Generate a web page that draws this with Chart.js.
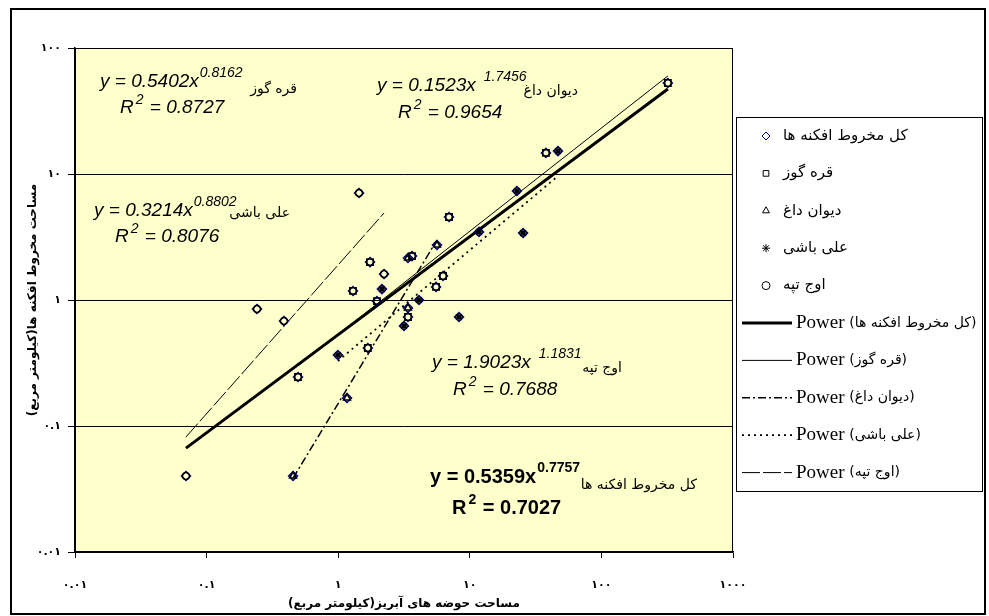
<!DOCTYPE html>
<html lang="fa">
<head>
<meta charset="utf-8">
<title>مساحت مخروط افکنه ها</title>
<script src="https://cdn.jsdelivr.net/npm/chart.js@4.4.1/dist/chart.umd.min.js"></script>
<style>
  html, body { margin: 0; padding: 0; background: #fff; }
  #wrap { width: 989px; height: 616px; }
</style>
</head>
<body>
<div id="wrap"><canvas id="fanChart" width="989" height="616" dir="rtl"></canvas></div>
<script>
// Basin area (x) vs fan area (y), km²
const qareGozX = [0.495, 1.295, 1.68, 1.745, 1.97, 3.64, 3.39, 5.54, 6.26, 6.95, 37.9, 320];
const qareGozY = [0.245, 1.18, 0.416, 2.0, 0.98, 2.23, 0.733, 1.27, 1.55, 4.56, 14.7, 52.7];
const divanDaghX = [0.454, 1.167, 3.39, 3.39, 5.63];
const divanDaghY = [0.0401, 0.167, 2.155, 0.865, 2.73];
const aliBashiX = [0.995, 2.15, 3.16, 4.11, 8.28, 11.75, 22.8, 25.4, 46.8];
const aliBashiY = [0.366, 1.22, 0.622, 1.0, 0.733, 3.47, 7.33, 3.40, 15.2];
const ujTappehX = [0.0697, 0.2415, 0.387, 1.44, 2.23];
const ujTappehY = [0.0401, 0.849, 0.681, 7.06, 1.61];

// Power trendline end points (straight on log-log axes)
const fitAllX = [0.0697, 320];
const fitAllY = [0.0668, 47.3];
const fitQareGozX = [0.495, 320];
const fitQareGozY = [0.30, 60];
const fitDivanDaghX = [0.454, 5.63];
const fitDivanDaghY = [0.0386, 2.99];
const fitAliBashiX = [0.995, 46.8];
const fitAliBashiY = [0.328, 9.64];
const fitUjTappehX = [0.0697, 2.23];
const fitUjTappehY = [0.0818, 4.90];

const groupNames = ['کل مخروط افکنه ها', 'قره گوز', 'دیوان داغ', 'علی باشی', 'اوج تپه'];
const fitCoef = ['0.5359', '0.5402', '0.1523', '0.3214', '1.9023'];
const fitExp = ['0.7757', '0.8162', '1.7456', '0.8802', '1.1831'];
const fitR2 = ['0.7027', '0.8727', '0.9654', '0.8076', '0.7688'];

const xTickValues = [0.01, 0.1, 1, 10, 100, 1000];
const xTickLabels = ['۰.۰۱', '۰.۱', '۱', '۱۰', '۱۰۰', '۱۰۰۰'];
const yTickValues = [0.01, 0.1, 1, 10, 100];
const yTickLabels = ['۰.۰۱', '۰.۱', '۱', '۱۰', '۱۰۰'];

const xTitle = 'مساحت حوضه های آبریز(کیلومتر مربع)';
const yTitle = 'مساحت مخروط افکنه ها(کیلومتر مربع)';

const toPoints = (xs, ys) => xs.map((x, i) => ({ x: x, y: ys[i] }));

const allX = [].concat(qareGozX, divanDaghX, aliBashiX, ujTappehX);
const allY = [].concat(qareGozY, divanDaghY, aliBashiY, ujTappehY);

function markerSet(name, xs, ys, style, color, radius, order) {
    return {
        label: name,
        groupName: name,
        data: toPoints(xs, ys),
        showLine: false,
        pointStyle: style,
        pointRadius: radius,
        pointBorderColor: color,
        pointBackgroundColor: 'rgba(0,0,0,0)',
        pointBorderWidth: 1.5,
        order: order
    };
}

function fitSet(name, xs, ys, width, dash) {
    return {
        label: 'Power (' + name + ')',
        groupName: name,
        data: toPoints(xs, ys),
        showLine: true,
        borderColor: '#000',
        borderWidth: width,
        borderDash: dash,
        pointRadius: 0,
        order: 5
    };
}

const datasets = [
    markerSet(groupNames[0], allX, allY, 'rectRot', '#000080', 4.5, 1),
    markerSet(groupNames[1], qareGozX, qareGozY, 'rect', '#000', 4.5, 0),
    markerSet(groupNames[2], divanDaghX, divanDaghY, 'triangle', '#000', 4, 0),
    markerSet(groupNames[3], aliBashiX, aliBashiY, 'star', '#000', 4, 0),
    markerSet(groupNames[4], ujTappehX, ujTappehY, 'circle', '#000', 3.5, 0),
    fitSet(groupNames[0], fitAllX, fitAllY, 3, []),
    fitSet(groupNames[1], fitQareGozX, fitQareGozY, 1, []),
    fitSet(groupNames[2], fitDivanDaghX, fitDivanDaghY, 1.5, [8, 3, 2, 3]),
    fitSet(groupNames[3], fitAliBashiX, fitAliBashiY, 1.8, [2, 4]),
    fitSet(groupNames[4], fitUjTappehX, fitUjTappehY, 1, [18, 3])
];

// equation labels: index into fit arrays + placement
function drawFitLabel(c, i, eqX, eqY, supGap, nameRight, nameY, r2X, r2Y, bold) {
    const size = bold ? 20 : 19;
    const supSize = 14;
    const style = bold ? 'bold ' : 'italic ';
    c.direction = 'ltr';
    c.textAlign = 'left';
    c.textBaseline = 'middle';
    c.fillStyle = '#000';

    c.font = style + size + 'px "Liberation Sans", Arial, sans-serif';
    const eq = 'y = ' + fitCoef[i] + 'x';
    c.fillText(eq, eqX, eqY);
    const w = c.measureText(eq).width;
    c.font = style + supSize + 'px "Liberation Sans", Arial, sans-serif';
    c.fillText(fitExp[i], eqX + w + supGap, eqY - 9);

    c.font = style + size + 'px "Liberation Sans", Arial, sans-serif';
    c.fillText('R', r2X, r2Y);
    const rw = c.measureText('R').width;
    c.font = style + supSize + 'px "Liberation Sans", Arial, sans-serif';
    c.fillText('2', r2X + rw + 2, r2Y - 8);
    const sw = c.measureText('2').width;
    c.font = style + size + 'px "Liberation Sans", Arial, sans-serif';
    c.fillText(' = ' + fitR2[i], r2X + rw + sw + 3, r2Y);

    c.direction = 'rtl';
    c.textAlign = 'right';
    c.font = '14px "DejaVu Sans", sans-serif';
    c.fillText(groupNames[i], nameRight, nameY);
}

const sheetFrame = {
    id: 'sheetFrame',
    beforeDraw(chart) {
        const c = chart.ctx, a = chart.chartArea;
        c.save();
        c.fillStyle = '#fff';
        c.fillRect(0, 0, chart.width, chart.height);
        c.fillStyle = '#FFFFCC';
        c.fillRect(a.left, a.top, a.right - a.left, a.bottom - a.top);
        c.restore();
    },
    afterDraw(chart) {
        const c = chart.ctx, a = chart.chartArea;
        c.save();

        // plot area edge
        c.strokeStyle = '#000';
        c.lineWidth = 1;
        c.strokeRect(Math.round(a.left) + 0.5, Math.round(a.top) + 0.5,
            Math.round(a.right - a.left) - 1, Math.round(a.bottom - a.top));

        // outer sheet border
        c.lineWidth = 2;
        c.strokeRect(11, 9, 974, 605);

        // fit equations
        drawFitLabel(c, 1, 100, 82, 1, 297, 89, 120, 108, false);
        drawFitLabel(c, 2, 377, 86, 8, 578, 91, 398, 113, false);
        drawFitLabel(c, 3, 94, 211, 1, 290, 213, 115, 237, false);
        drawFitLabel(c, 4, 432, 363, 8, 622, 368, 453, 390, false);
        drawFitLabel(c, 0, 430, 477, 1, 697, 485, 452, 508, true);

        // legend box
        c.fillStyle = '#fff';
        c.fillRect(736, 117, 247, 374);
        c.lineWidth = 1;
        c.strokeStyle = '#000';
        c.strokeRect(736.5, 117.5, 246, 374);

        chart.data.datasets.forEach((ds, i) => {
            const y = 136 + i * 37.4;
            c.fillStyle = '#000';
            c.textBaseline = 'middle';
            c.textAlign = 'left';
            if (ds.showLine) {
                c.strokeStyle = '#000';
                c.lineWidth = ds.borderWidth;
                c.setLineDash(ds.borderDash);
                c.beginPath();
                c.moveTo(742, y);
                c.lineTo(792, y);
                c.stroke();
                c.setLineDash([]);
                c.direction = 'ltr';
                c.font = '19px "Liberation Serif", "Times New Roman", serif';
                c.fillText('Power', 796, y);
                const pw = c.measureText('Power ').width;
                c.direction = 'rtl';
                c.font = '14px "DejaVu Sans", sans-serif';
                c.fillText('(' + ds.groupName + ')', 796 + pw, y);
            } else {
                c.strokeStyle = ds.pointBorderColor;
                c.fillStyle = 'rgba(0,0,0,0)';
                Chart.helpers.drawPoint(c, {
                    pointStyle: ds.pointStyle, radius: 4, rotation: 0, borderWidth: 1.2
                }, 766, y);
                c.fillStyle = '#000';
                c.direction = 'rtl';
                c.font = '15px "DejaVu Sans", sans-serif';
                c.fillText(ds.groupName, 783, y);
            }
        });
        c.restore();
    }
};

const tickFont = { family: '"DejaVu Sans", sans-serif', size: 11, weight: 'bold' };
const titleFont = { family: '"DejaVu Sans", sans-serif', size: 12, weight: 'bold' };

new Chart(document.getElementById('fanChart'), {
    type: 'scatter',
    data: { datasets: datasets },
    options: {
        responsive: false,
        animation: false,
        events: [],
        layout: { padding: { left: 0, right: 256, top: 48, bottom: 0 } },
        plugins: {
            legend: { display: false },
            tooltip: { enabled: false }
        },
        scales: {
            x: {
                type: 'logarithmic',
                min: 0.01,
                max: 1000,
                afterBuildTicks: (axis) => { axis.ticks = xTickValues.map(v => ({ value: v })); },
                afterFit: (axis) => { axis.height = 64; },
                ticks: {
                    callback: (v) => xTickLabels[xTickValues.indexOf(v)],
                    color: '#000',
                    padding: 21,
                    maxRotation: 0,
                    autoSkip: false,
                    font: tickFont
                },
                grid: { drawOnChartArea: false, color: '#000', tickLength: 6, lineWidth: 1 },
                border: { color: '#000', width: 1.5 },
                title: { display: true, text: xTitle, color: '#000', font: titleFont, padding: { top: 0, bottom: 5 } }
            },
            y: {
                type: 'logarithmic',
                min: 0.01,
                max: 100,
                afterBuildTicks: (axis) => { axis.ticks = yTickValues.map(v => ({ value: v })); },
                afterFit: (axis) => { axis.width = 75; },
                ticks: {
                    callback: (v) => yTickLabels[yTickValues.indexOf(v)],
                    color: '#000',
                    padding: 7,
                    autoSkip: false,
                    font: tickFont
                },
                grid: { color: '#000', tickLength: 7, lineWidth: 1 },
                border: { color: '#000', width: 1.5 },
                title: { display: true, text: yTitle, color: '#000', font: titleFont, padding: { top: 26, bottom: 0 } }
            }
        }
    },
    plugins: [sheetFrame]
});
</script>
</body>
</html>
